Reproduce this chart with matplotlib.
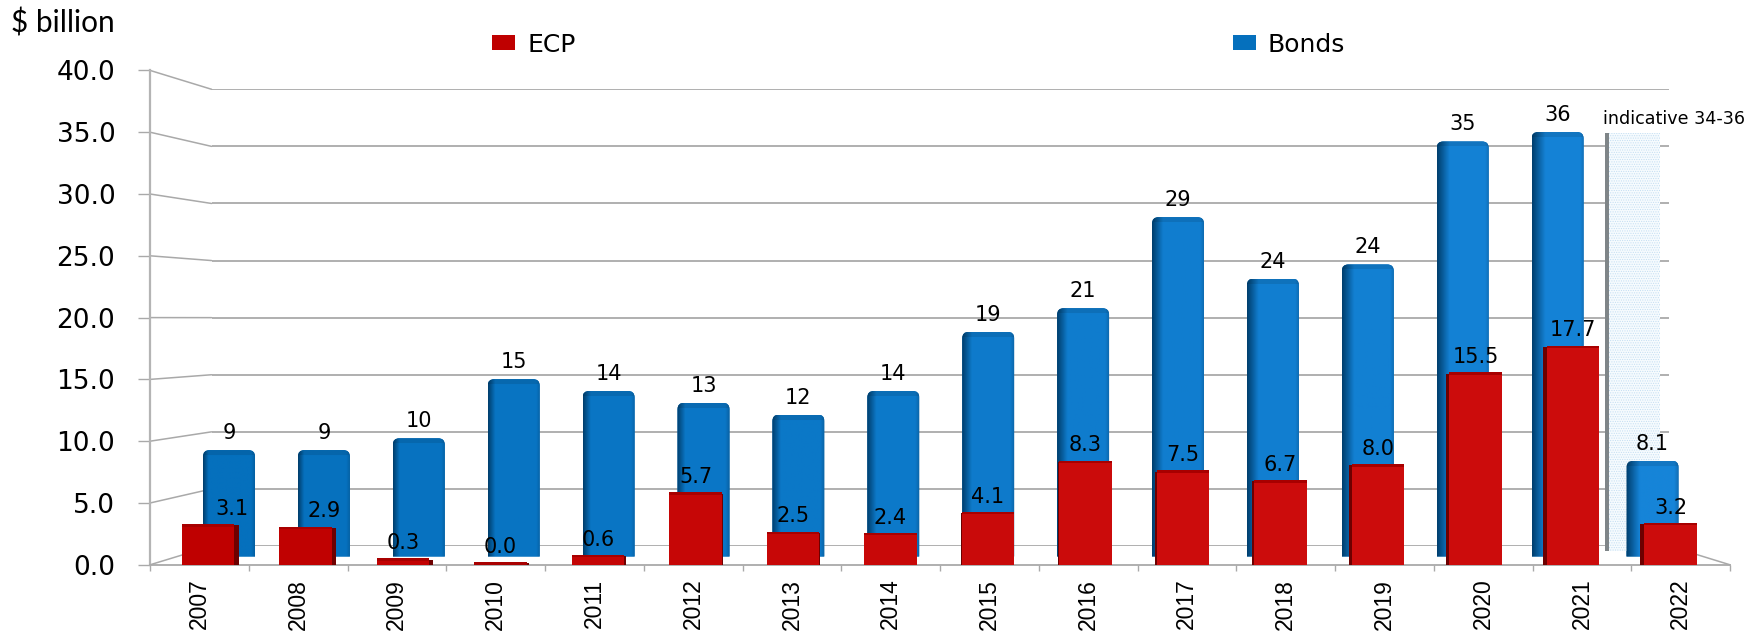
import numpy as np
import matplotlib
matplotlib.use('Agg')
import matplotlib.pyplot as plt
from matplotlib.colors import to_rgb
from matplotlib.patches import ConnectionPatch, PathPatch
from matplotlib.path import Path

years = ['2007', '2008', '2009', '2010', '2011', '2012', '2013', '2014',
         '2015', '2016', '2017', '2018', '2019', '2020', '2021', '2022']
# bar heights, the labels are the rounded published ones
bonds = [9.0, 9.0, 10.0, 15.0, 14.0, 13.0, 12.0, 14.0,
         19.0, 21.0, 28.7, 23.5, 24.7, 35.1, 35.9, 8.1]
bond_labels = ['9', '9', '10', '15', '14', '13', '12', '14',
               '19', '21', '29', '24', '24', '35', '36', '8.1']
ecp = [3.1, 2.9, 0.3, 0.0, 0.6, 5.7, 2.5, 2.4,
       4.1, 8.3, 7.5, 6.7, 8.0, 15.5, 17.7, 3.2]
y_ticks = [0, 5, 10, 15, 20, 25, 30, 35, 40]
indicative_top = 35.8

W, H = 1746, 631
GREY = '#a9a9a9'
fig = plt.figure(figsize=(W / 100, H / 100), dpi=100)


def px_axes(left, right, bottom, top, zorder):
    # axes placed by reference pixels, transparent so the layers show through
    ax = fig.add_axes([left / W, 1 - bottom / H, (right - left) / W, (bottom - top) / H], zorder=zorder)
    ax.patch.set_alpha(0)
    ax.set_xlim(-0.5, 15.5)
    ax.set_ylim(0, 40)
    return ax


# back wall with the gridlines
ax_wall = px_axes(211.6, 1669, 546, 89.3, 1)
ax_wall.set_yticks(y_ticks)
ax_wall.set_xticks([])
ax_wall.tick_params(left=False, labelleft=False)
ax_wall.grid(axis='y', color=GREY, lw=1.3)
for s in ax_wall.spines.values():
    s.set_visible(False)

# front plane, carries the axis lines and the labels
ax_front = px_axes(150, 1730, 564.8, 70.4, 2)
ax_front.set_yticks(y_ticks)
ax_front.set_yticklabels(['%.1f' % v for v in y_ticks], fontsize=19, color='black')
ax_front.tick_params(axis='y', length=9, width=1, color=GREY, pad=16)
ax_front.set_xticks(np.arange(16))
ax_front.set_xticklabels(years, rotation=90, fontsize=16.5, family=['Liberation Sans Narrow', 'Liberation Sans'])
ax_front.set_xticks(np.arange(-0.5, 16), minor=True)
ax_front.tick_params(axis='x', which='major', length=0, pad=10)
ax_front.tick_params(axis='x', which='minor', length=4, width=1, color=GREY)
for s in ['top', 'right']:
    ax_front.spines[s].set_visible(False)
ax_front.spines['left'].set_color('#b4b4b4')
ax_front.spines['left'].set_linewidth(1.6)
ax_front.spines['bottom'].set_color(GREY)
ax_front.spines['bottom'].set_linewidth(1.3)

# side wall lines between front plane and back wall
for v in y_ticks:
    fig.add_artist(ConnectionPatch((-0.5, v), (0, v), coordsA=ax_front.transData,
                                   coordsB=ax_wall.get_yaxis_transform(), color=GREY, lw=1.1))
fig.add_artist(ConnectionPatch((15.5, 0), (1, 0), coordsA=ax_front.transData,
                               coordsB=ax_wall.get_yaxis_transform(), color=GREY, lw=1.1))

# blue cylinders, one step further back than the red bars
ax_blue = px_axes(181.55, 1699.95, 556.5, 83.5, 3)
ax_blue.axis('off')
x = np.arange(len(years))
blue_w = 0.548
blue_bars = ax_blue.bar(x, bonds, width=blue_w, color='#0570bd', label='Bonds')


def rounded_top(x0, x1, top, rx, ry):
    verts = [(x0, 0), (x0, top - ry), (x0, top), (x0 + rx, top), (x1 - rx, top),
             (x1, top), (x1, top - ry), (x1, 0), (x0, 0)]
    codes = [Path.MOVETO, Path.LINETO, Path.CURVE3, Path.CURVE3, Path.LINETO,
             Path.CURVE3, Path.CURVE3, Path.LINETO, Path.CLOSEPOLY]
    return Path(verts, codes)


for i, (bar, v) in enumerate(zip(blue_bars, bonds)):
    t = i / 15
    dark = 0.10 + 0.16 * t
    mid = np.array(to_rgb('#0570bd')) * (1 - t) + np.array(to_rgb('#1684d8')) * t
    stops = [0, dark, 0.92, 1]
    cols = np.array([to_rgb('#003f6e'), mid, mid, mid * 0.82])
    u = np.linspace(0, 1, 60)
    row = np.stack([np.interp(u, stops, cols[:, c]) for c in range(3)], axis=1)
    # the rounded cap is a little darker
    n = max(int(v * 11.82), 2)
    shade = np.ones(n)
    shade[:5] = 0.9
    img = shade[:, None, None] * row[None, :, :]
    x0, x1 = i - blue_w / 2, i + blue_w / 2
    im = ax_blue.imshow(img, extent=[x0, x1, 0, v], aspect='auto', zorder=2, interpolation='bilinear')
    clip = PathPatch(rounded_top(x0, x1, v, 0.07, 0.55), fc='none', ec='none', transform=ax_blue.transData)
    ax_blue.add_patch(clip)
    im.set_clip_path(clip)
    bar.set_clip_path(clip)
    ax_blue.annotate(bond_labels[i], (i, v), xytext=(0, 5), textcoords='offset points',
                     ha='center', va='bottom', fontsize=15, color='black', zorder=6)
ax_blue.set_xlim(-0.5, 15.5)
ax_blue.set_ylim(0, 40)

# dotted block for the indicative 2022 range
ind_x = 14.79
ind_w = 0.58
plt.rcParams['hatch.linewidth'] = 0.5
ax_blue.bar(ind_x, indicative_top - 0.47, bottom=0.47, width=ind_w, color='#f6fbfe', edgecolor='#c4def2',
            hatch='.......', lw=0, zorder=1.5)
ax_blue.bar(ind_x - ind_w / 2 + 0.02, indicative_top - 0.47, bottom=0.47, width=0.045, color='#7f8588', zorder=1.6)
ax_blue.text(14.48, indicative_top + 0.4, 'indicative 34-36', fontsize=12.6, ha='left', va='bottom',
             color='black', zorder=6)

# red boxes in front
ax_red = px_axes(159.25, 1719.25, 564.6, 75, 4)
ax_red.axis('off')
red_w = 0.54
red_bars = ax_red.bar(x, ecp, width=red_w, color='#c00000', label='ECP', zorder=3)
for i, bar in enumerate(red_bars):
    t = min(i / 10, 1)
    bar.set_facecolor(np.array(to_rgb('#bf0000')) * (1 - t) + np.array(to_rgb('#cc0c0c')) * t)

side = (7.3 - x) * 0.6 / 97.5
ax_red.bar(x + np.sign(side) * (red_w / 2 + np.abs(side) / 2), np.array(ecp) + 0.1, width=np.abs(side),
           color='#6d0000', zorder=2)
ax_red.bar(x, 0.2, bottom=ecp, width=red_w, color='#a80000', zorder=2)

label_shift = np.zeros(len(years))
label_shift[0] = 24
label_shift[1] = 19
for i, v in enumerate(ecp):
    ax_red.annotate('%.1f' % v, (i, v), xytext=(label_shift[i] * 0.72, 5.5), textcoords='offset points',
                    ha='center', va='bottom', fontsize=15, color='black', zorder=6)

fig.text(11 / W, 1 - 23 / H, '$ billion', fontsize=21.5, family='Lato', ha='left', va='center',
         parse_math=False)

# legend, red first as in the reference
handles = [red_bars, blue_bars]
leg = fig.legend(handles, ['ECP', 'Bonds'], ncol=2, frameon=False, fontsize=18,
                 loc='center left', bbox_to_anchor=(469.5 / W, 1 - 44.5 / H),
                 handlelength=0.92, handleheight=0.52, handletextpad=0.48, columnspacing=26.3)

fig.savefig('out.png', dpi=100)
